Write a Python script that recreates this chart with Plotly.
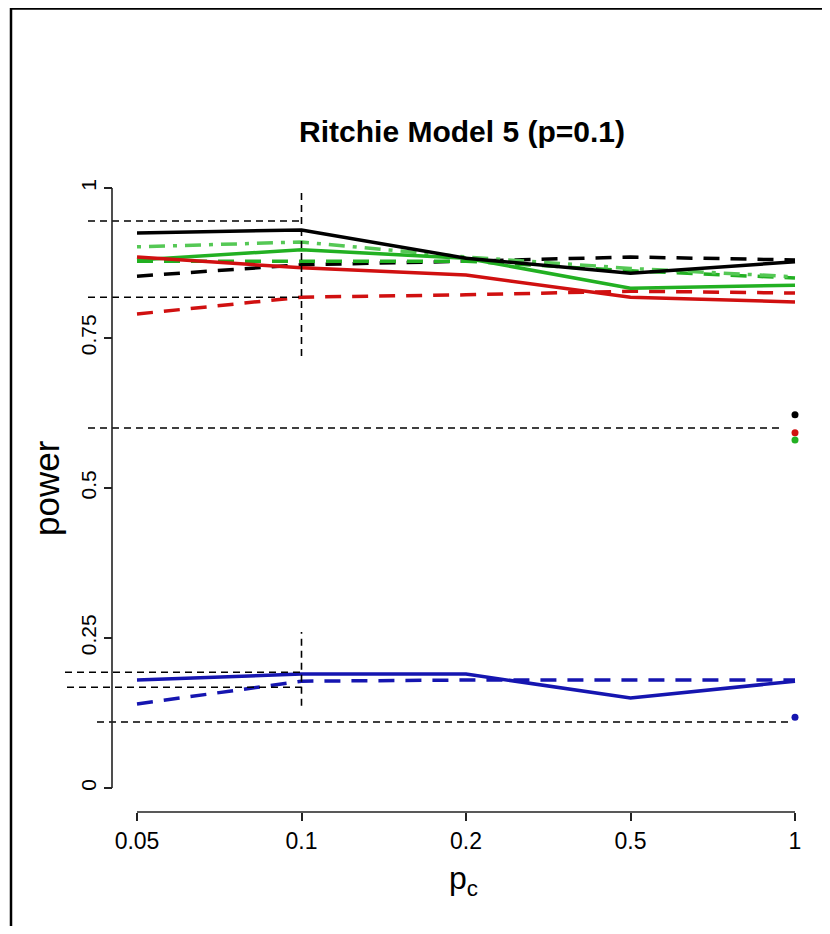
import plotly.graph_objects as go

# ---------------- data ----------------
pc_labels = ["0.05", "0.1", "0.2", "0.5", "1"]
x_idx = [1, 2, 3, 4, 5]

black_solid = [0.925, 0.930, 0.883, 0.858, 0.877]
black_dash = [0.853, 0.872, 0.878, 0.885, 0.880]
green_solid = [0.880, 0.897, 0.883, 0.833, 0.838]
green_dash = [0.878, 0.878, 0.878, 0.862, 0.850]
green_dashdot = [0.902, 0.910, 0.885, 0.866, 0.852]
red_solid = [0.885, 0.867, 0.855, 0.818, 0.810]
red_dash = [0.790, 0.818, 0.822, 0.828, 0.825]
blue_solid = [0.180, 0.190, 0.190, 0.150, 0.178]
blue_dash = [0.140, 0.178, 0.180, 0.180, 0.180]

point_x = 5
point_colors = ["black", "#d01010", "#22b022", "#1515b0"]
point_vals = [0.622, 0.592, 0.580, 0.118]

ref_levels_upper = [0.945, 0.818]
ref_level_mid = 0.600
ref_levels_lower = [0.193, 0.168]
ref_level_low = 0.110
vline_x = 2
vline_upper = [0.72, 1.0]
vline_lower = [0.137, 0.26]

y_tick_vals = [0, 0.25, 0.5, 0.75, 1]
y_tick_text = ["0", "0.25", "0.5", "0.75", "1"]

# ---------------- pixel mapping (layout) ----------------
OFF = 8                  # page body margin of the browser
W, H = 830 - OFF, 934 - 2 * OFF
px_x1, px_per_x = 137.0, 164.5   # screen pixel of x index 1, pixels per index step
px_y0, px_per_y = 788.0, 600.0   # screen pixel of y=0, pixels per unit


def dx(p):
    return 1 + (p - px_x1) / px_per_x


def dy(p):
    return (px_y0 - p) / px_per_y


def xp(p):
    return (p - OFF) / W


def yp(p):
    return 1 - (p - OFF) / H


x_range = [dx(OFF), dx(OFF + W)]
y_range = [dy(OFF + H), dy(OFF)]

AXIS_X_PX = 112   # R y-axis line
AXIS_Y_PX = 812   # R x-axis line

fig = go.Figure()

BLACK = "black"
GREEN = "#22b022"
RED = "#d01010"
BLUE = "#1515b0"
LW = 3.5
DASH = "16px,11px"
DOTDASH = "4px,8px,16px,8px"


def add_line(vals, color, dash):
    fig.add_trace(go.Scatter(x=x_idx, y=vals, mode="lines",
                             line=dict(color=color, width=LW, dash=dash),
                             showlegend=False, hoverinfo="skip"))


add_line(black_dash, BLACK, DASH)
add_line(green_dash, GREEN, DASH)
add_line(green_dashdot, "#55c855", DOTDASH)
add_line(red_dash, RED, DASH)
add_line(green_solid, GREEN, "solid")
add_line(red_solid, RED, "solid")
add_line(black_solid, BLACK, "solid")
add_line(blue_dash, BLUE, DASH)
add_line(blue_solid, BLUE, "solid")

fig.add_trace(go.Scatter(x=[point_x] * len(point_vals), y=point_vals, mode="markers",
                         marker=dict(color=point_colors, size=7),
                         showlegend=False, hoverinfo="skip"))

REF = dict(color="black", width=1.6, dash="7px,5px")
shapes = []
for v in ref_levels_upper:
    shapes.append(dict(type="line", xref="x", yref="y", x0=dx(88), x1=vline_x,
                       y0=v, y1=v, line=REF))
shapes.append(dict(type="line", xref="x", yref="y", x0=dx(88), x1=dx(780),
                   y0=ref_level_mid, y1=ref_level_mid, line=REF))
shapes.append(dict(type="line", xref="x", yref="y", x0=dx(65), x1=vline_x,
                   y0=ref_levels_lower[0], y1=ref_levels_lower[0], line=REF))
shapes.append(dict(type="line", xref="x", yref="y", x0=dx(67), x1=vline_x,
                   y0=ref_levels_lower[1], y1=ref_levels_lower[1], line=REF))
shapes.append(dict(type="line", xref="x", yref="y", x0=dx(97), x1=dx(790),
                   y0=ref_level_low, y1=ref_level_low, line=REF))
shapes.append(dict(type="line", xref="x", yref="y", x0=vline_x, x1=vline_x,
                   y0=vline_upper[0], y1=vline_upper[1], line=REF))
shapes.append(dict(type="line", xref="x", yref="y", x0=vline_x, x1=vline_x,
                   y0=vline_lower[0], y1=vline_lower[1], line=REF))

# R-style axis lines
AX = dict(color="#222222", width=1.6)
shapes.append(dict(type="line", xref="x", yref="y", x0=dx(AXIS_X_PX), x1=dx(AXIS_X_PX),
                   y0=0, y1=1, line=AX))
shapes.append(dict(type="line", xref="x", yref="y", x0=1, x1=5,
                   y0=dy(AXIS_Y_PX), y1=dy(AXIS_Y_PX), line=AX))
# figure frame (top and left)
shapes.append(dict(type="line", xref="paper", yref="paper", x0=xp(10), x1=1,
                   y0=yp(8.5), y1=yp(8.5), line=dict(color="black", width=2.5)))
shapes.append(dict(type="line", xref="paper", yref="paper", x0=xp(11), x1=xp(11),
                   y0=0, y1=yp(8), line=dict(color="black", width=2.5)))

FONT = "Liberation Sans, Arial, sans-serif"

fig.update_layout(
    width=W, height=H,
    margin=dict(l=0, r=0, t=0, b=0),
    paper_bgcolor="white", plot_bgcolor="white",
    shapes=shapes,
    font=dict(family=FONT, color="black"),
    title=dict(text="<b>Ritchie Model 5 (p=0.1)</b>", x=xp(462), xanchor="center",
               y=yp(131), yanchor="middle", font=dict(size=30, family=FONT)),
    xaxis=dict(range=x_range, domain=[0, 1], anchor="free", position=yp(AXIS_Y_PX),
               showgrid=False, zeroline=False, showline=False,
               tickmode="array", tickvals=x_idx, ticktext=pc_labels,
               ticks="outside", ticklen=8, tickwidth=1.6, tickcolor="#222222",
               tickfont=dict(size=23, family=FONT), automargin=False),
    yaxis=dict(range=y_range, domain=[0, 1], anchor="free", position=xp(AXIS_X_PX),
               showgrid=False, zeroline=False, showline=False,
               tickmode="array", tickvals=y_tick_vals, ticktext=y_tick_text,
               ticks="outside", ticklen=8, tickwidth=1.6, tickcolor="#222222",
               tickangle=-90,
               tickfont=dict(size=21, family=FONT), automargin=False),
    annotations=[
        dict(text="power", xref="paper", yref="paper", x=xp(46), y=yp(488),
             showarrow=False, textangle=-90, xanchor="center", yanchor="middle",
             font=dict(size=35, family=FONT)),
        dict(text="p<sub>c</sub>", xref="paper", yref="paper", x=xp(463), y=yp(880),
             showarrow=False, xanchor="center", yanchor="middle",
             font=dict(size=32, family=FONT)),
    ],
)

fig.write_html("out.html")
